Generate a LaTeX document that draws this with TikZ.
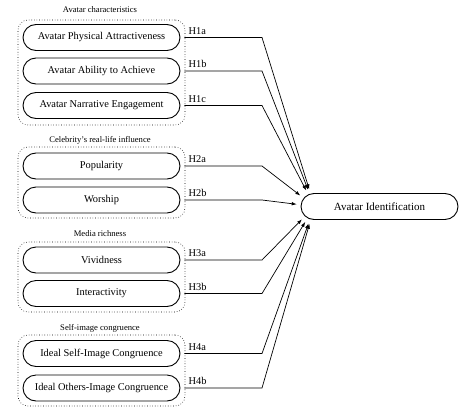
\documentclass[tikz,border=0pt]{standalone}
\usepackage{fontspec}
\setmainfont{Liberation Serif}
\usetikzlibrary{calc,arrows.meta}
\begin{document}
\begin{tikzpicture}[x=1pt,y=-1pt,
  pill/.style={draw, rounded corners=13pt, minimum width=157pt, minimum height=26pt, line width=0.9pt, inner sep=0pt, font=\fontsize{10.4}{12}\selectfont},
  target/.style={pill, font=\fontsize{11}{13}\selectfont},
  grp/.style={draw, dotted, rounded corners=10pt, line width=0.6pt, minimum width=167pt, inner sep=0pt},
  gtitle/.style={font=\fontsize{8.6}{10}\selectfont, inner sep=0pt},
  hlab/.style={font=\fontsize{10.4}{12}\selectfont, anchor=base west, inner sep=0pt},
  link/.style={line width=0.7pt, -{Latex[length=5pt,width=3.6pt]}}
]
\useasboundingbox (0,0) rectangle (462,412);

% groups
\node[grp, minimum height=105pt] (g1) at (101.5,72.5) {};
\node[grp, minimum height=71pt] (g2) at (101.5,182.5) {};
\node[grp, minimum height=70pt] (g3) at (101.5,277) {};
\node[grp, minimum height=71pt] (g4) at (101.5,370.5) {};

\node[gtitle] (t1) at (100,10) {Avatar characteristics};
\node[gtitle] (t2) at (100,140) {Celebrity’s real-life influence};
\node[gtitle] (t3) at (100,234) {Media richness};
\node[gtitle] (t4) at (100,328) {Self-image congruence};

% factor nodes
\node[pill] (n1) at (101.5,37.5) {Avatar Physical Attractiveness};
\node[pill] (n2) at (101.5,71) {Avatar Ability to Achieve};
\node[pill] (n3) at (101.5,105.5) {Avatar Narrative Engagement};
\node[pill] (n4) at (101.5,166) {Popularity};
\node[pill] (n5) at (101.5,200) {Worship};
\node[pill] (n6) at (101.5,260) {Vividness};
\node[pill] (n7) at (101.5,293.5) {Interactivity};
\node[pill] (n8) at (101.5,353.5) {Ideal Self-Image Congruence};
\node[pill] (n9) at (101.5,388) {Ideal Others-Image Congruence};

% target
\node[target] (T) at (379.5,206.5) {Avatar Identification};
\coordinate (c) at ([xshift=14pt]T.west);

% links
\foreach \i/\lab in {1/H1a,2/H1b,3/H1c,4/H2a,5/H2b,6/H3a,7/H3b,8/H4a,9/H4b}{
  \coordinate (b\i) at (262,0 |- n\i.east);
  \draw[link, shorten <=4pt] (n\i.east) -- (b\i) -- ($(c)!18pt!(b\i)$);
  \node[hlab] (h\i) at ([xshift=8pt,yshift=3.2pt]n\i.east) {\lab};
}
\end{tikzpicture}
\end{document}
